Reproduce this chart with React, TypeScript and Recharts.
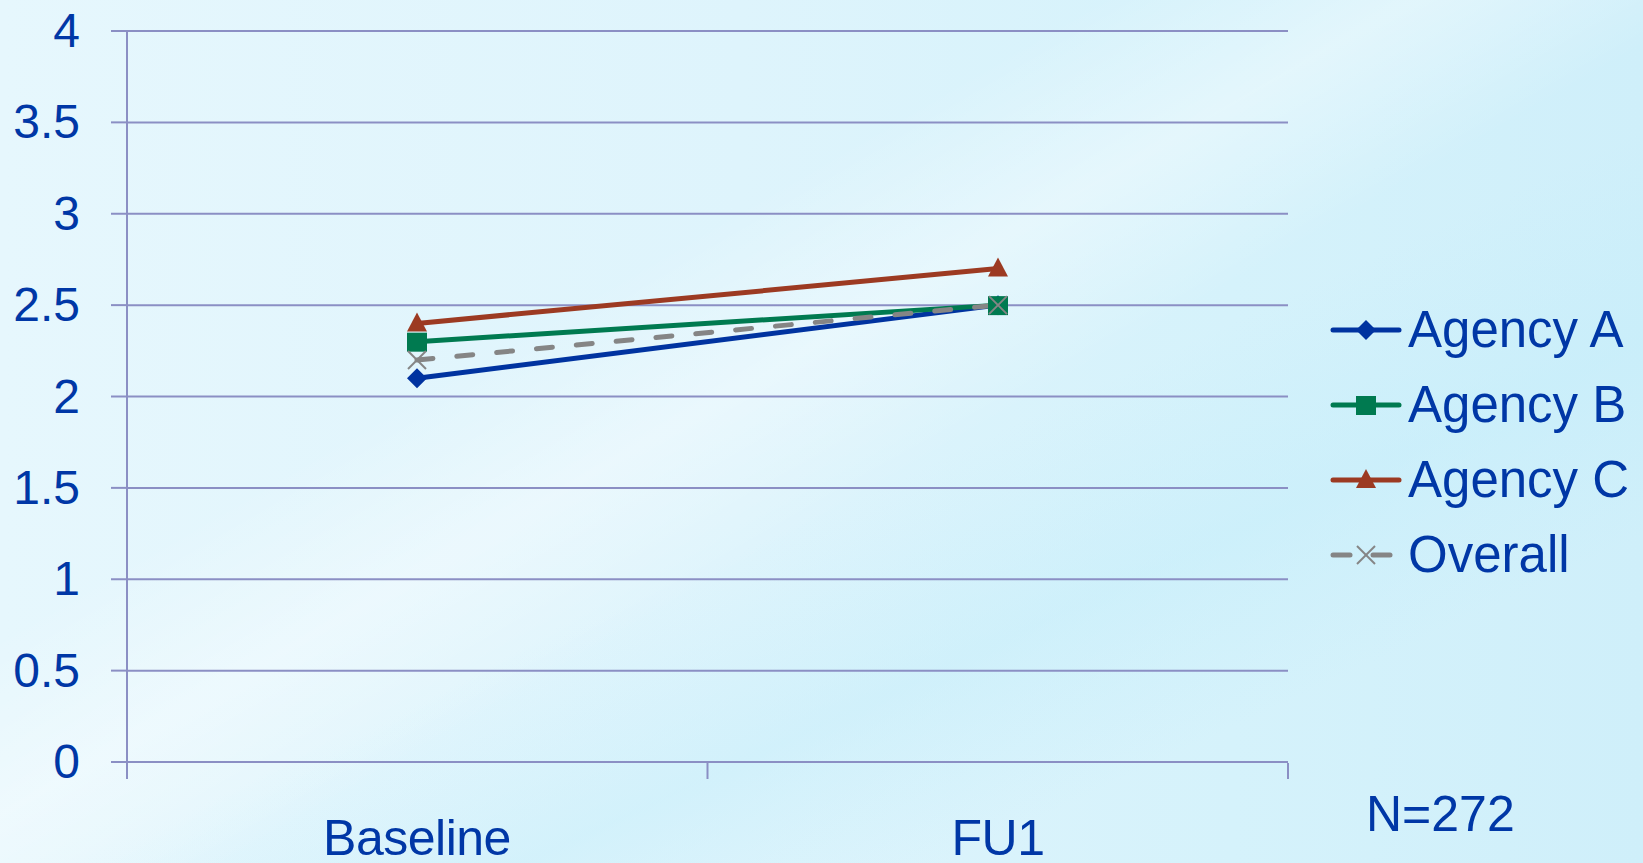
import React from 'react'
import { LineChart, Line, XAxis, YAxis, CartesianGrid, Legend } from 'recharts'

const categories = ['Baseline', 'FU1']
const agencyA = [2.1, 2.5]
const agencyB = [2.3, 2.5]
const agencyC = [2.4, 2.7]
const overall = [2.2, 2.5]
const yTicks = [0, 0.5, 1, 1.5, 2, 2.5, 3, 3.5, 4]
const edgeTicks = [0, 1, 2]
const seriesNames = ['Agency A', 'Agency B', 'Agency C', 'Overall']

const BLUE = '#0033a0'
const GREEN = '#007a50'
const RED = '#9c3a22'
const GRAY = '#858585'
const GRID = '#8b8fc4'
const TEXT = '#0037a6'
const FONT = '"Liberation Sans", Arial, sans-serif'

const data = categories.map((c, i) => ({
  cat: c,
  edge: i,
  a: agencyA[i],
  b: agencyB[i],
  c: agencyC[i],
  o: overall[i],
}))

// marker shapes
const Diamond = ({ cx, cy }: any) => (
  <polygon points={`${cx},${cy - 10} ${cx + 10},${cy} ${cx},${cy + 10} ${cx - 10},${cy}`} fill={BLUE} />
)
const Square = ({ cx, cy }: any) => (
  <rect x={cx - 10} y={cy - 9} width={20} height={19} fill={GREEN} />
)
const Triangle = ({ cx, cy }: any) => (
  <polygon points={`${cx},${cy - 11} ${cx + 10},${cy + 8} ${cx - 10},${cy + 8}`} fill={RED} />
)
const Cross = ({ cx, cy }: any) => (
  <g stroke={GRAY} strokeWidth={2}>
    <line x1={cx - 9} y1={cy - 9} x2={cx + 9} y2={cy + 9} />
    <line x1={cx - 9} y1={cy + 9} x2={cx + 9} y2={cy - 9} />
  </g>
)

const EmptyTick = () => <g />

// labels are placed from the plot bottom (762) so axis stacking order does not matter
const XTick = ({ x, payload }: any) => (
  <text x={x} y={855} textAnchor="middle" fill={TEXT} fontSize={50} fontFamily={FONT} letterSpacing={-0.5}>
    {payload.value}
  </text>
)

const YTick = ({ x, y, payload }: any) => (
  <text x={x} y={y + 16} textAnchor="end" fill={TEXT} fontSize={48} fontFamily={FONT}>
    {payload.value}
  </text>
)

const legendIcons = [
  (
    <svg width={72} height={30}>
      <line x1={3} y1={15} x2={69} y2={15} stroke={BLUE} strokeWidth={5} strokeLinecap="round" />
      <Diamond cx={36} cy={15} />
    </svg>
  ),
  (
    <svg width={72} height={30}>
      <line x1={3} y1={15} x2={69} y2={15} stroke={GREEN} strokeWidth={5} strokeLinecap="round" />
      <Square cx={36} cy={15} />
    </svg>
  ),
  (
    <svg width={72} height={30}>
      <line x1={3} y1={15} x2={69} y2={15} stroke={RED} strokeWidth={5} strokeLinecap="round" />
      <Triangle cx={36} cy={15} />
    </svg>
  ),
  (
    <svg width={72} height={30}>
      <line x1={3} y1={15} x2={20} y2={15} stroke={GRAY} strokeWidth={5} strokeLinecap="round" />
      <line x1={43} y1={15} x2={60} y2={15} stroke={GRAY} strokeWidth={5} strokeLinecap="round" />
      <Cross cx={36} cy={15} />
    </svg>
  ),
]

const LegendContent = () => (
  <div>
    {seriesNames.map((name, i) => (
      <div key={name} style={{ display: 'flex', alignItems: 'center', height: 75 }}>
        {legendIcons[i]}
        <span style={{ marginLeft: 6, fontSize: 51, fontFamily: FONT, color: TEXT, lineHeight: '75px', whiteSpace: 'nowrap' }}>
          {name}
        </span>
      </div>
    ))}
  </div>
)

export default function App() {
  return (
    <div
      style={{
        position: 'absolute',
        left: 0,
        top: 0,
        width: 1643,
        height: 863,
        overflow: 'hidden',
        background:
          'linear-gradient(150deg, rgba(255,255,255,0) 35%, rgba(255,255,255,0.35) 45%, rgba(255,255,255,0) 55%),' +
          'linear-gradient(155deg, rgba(195,237,250,0) 55%, rgba(195,237,250,0.45) 68%, rgba(195,237,250,0) 80%),' +
          'linear-gradient(90deg, #e6f7fd 0%, #def4fc 45%, #d5f2fb 75%, #cfeffa 100%)',
      }}
    >
      <LineChart width={1643} height={863} data={data} margin={{ top: 31, right: 355, bottom: 99, left: 0 }}>
        <CartesianGrid vertical={false} stroke={GRID} strokeWidth={2} />
        <XAxis
          dataKey="cat"
          padding={{ left: 290, right: 290 }}
          axisLine={false}
          tickLine={false}
          tickSize={0}
          tickMargin={0}
          height={1}
          tick={<XTick />}
          interval={0}
        />
        <XAxis
          xAxisId="edge"
          dataKey="edge"
          type="number"
          domain={[0, 2]}
          allowDataOverflow
          ticks={edgeTicks}
          tick={<EmptyTick />}
          tickSize={16}
          tickLine={{ stroke: GRID, strokeWidth: 2 }}
          axisLine={false}
          height={1}
          interval={0}
        />
        <YAxis
          domain={[0, 4]}
          ticks={yTicks}
          width={127}
          tickSize={16}
          tickMargin={31}
          tickLine={{ stroke: GRID, strokeWidth: 2 }}
          axisLine={{ stroke: GRID, strokeWidth: 2 }}
          tick={<YTick />}
          interval={0}
        />
        <Line dataKey="a" name="Agency A" stroke={BLUE} strokeWidth={5} dot={<Diamond />} isAnimationActive={false} />
        <Line dataKey="b" name="Agency B" stroke={GREEN} strokeWidth={5} dot={<Square />} isAnimationActive={false} />
        <Line dataKey="c" name="Agency C" stroke={RED} strokeWidth={5} dot={<Triangle />} isAnimationActive={false} />
        <Line
          dataKey="o"
          name="Overall"
          stroke={GRAY}
          strokeWidth={5}
          strokeDasharray="16 24"
          strokeLinecap="round"
          dot={<Cross />}
          isAnimationActive={false}
        />
        <Legend
          layout="horizontal"
          verticalAlign="middle"
          align="center"
          content={<LegendContent />}
          wrapperStyle={{ position: 'absolute', left: 1330, top: 292, width: 320 }}
        />
      </LineChart>
      <div
        style={{
          position: 'absolute',
          left: 1366,
          top: 786,
          fontSize: 50,
          fontFamily: FONT,
          color: TEXT,
          lineHeight: '56px',
        }}
      >
        N=272
      </div>
    </div>
  )
}
